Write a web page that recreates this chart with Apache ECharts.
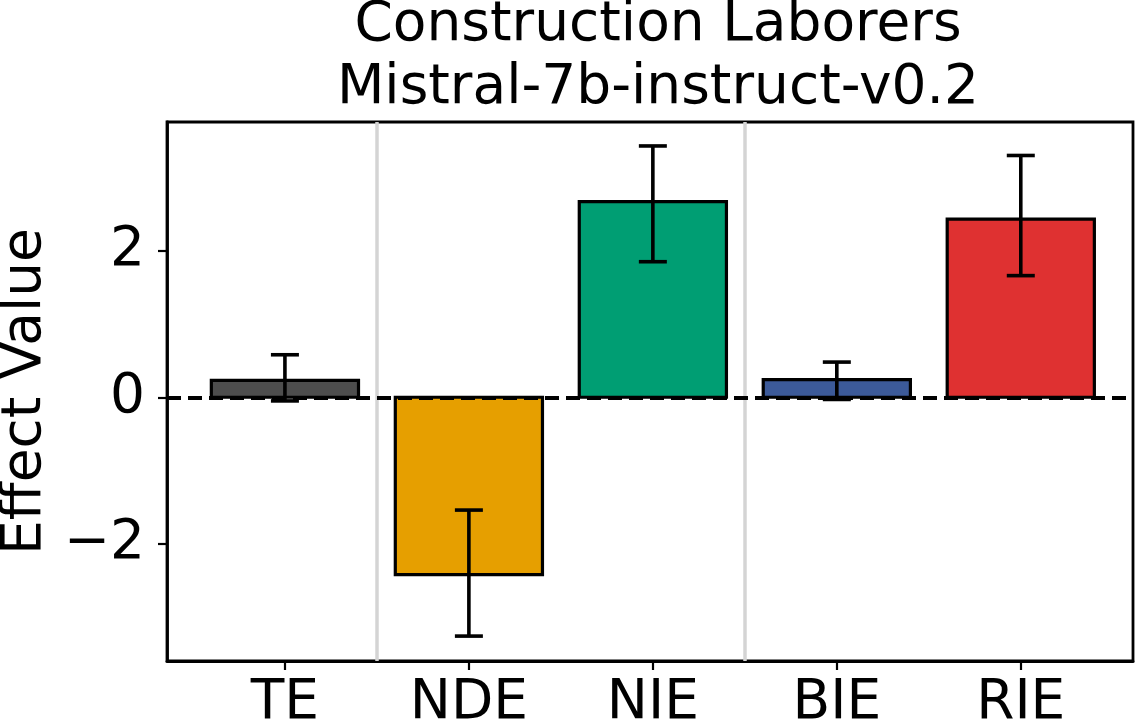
<!DOCTYPE html>
<html lang="en">
<head>
    <meta charset="UTF-8">
    <title>Construction Laborers - Mistral-7b-instruct-v0.2</title>
    <script src="https://cdn.jsdelivr.net/npm/echarts@6/dist/echarts.min.js"></script>
    <style>
        html, body { margin: 0; padding: 0; background: #fff; }
        #Chart1 { width: 1140px; height: 724px; }
    </style>
</head>
<body>
<div id="Chart1"></div>
<script>
// data
var categories = ['TE', 'NDE', 'NIE', 'BIE', 'RIE'];
var effects    = [0.23, -2.42, 2.67, 0.24, 2.43];
var errLow     = [-0.05, -3.26, 1.85, -0.03, 1.66];
var errHigh    = [0.58, -1.54, 3.43, 0.48, 3.30];
var barColors  = ['#4d4d4d', '#E69F00', '#009E73', '#3C5A99', '#DF3131'];
var yTicks     = [-2, 0, 2];
var dividers   = [0.5, 2.5];

var FONT = 'DejaVu Sans';
var BAR_WIDTH = 0.8;
var CAP = 14;

var barData = [];
var errData = [];
for (var i = 0; i < categories.length; i++) {
    barData.push([i, effects[i]]);
    errData.push([i, errLow[i], errHigh[i]]);
}

function renderBar(params, api) {
    var x = api.value(0);
    var v = api.value(1);
    var p0 = api.coord([x - BAR_WIDTH / 2, 0]);
    var p1 = api.coord([x + BAR_WIDTH / 2, v]);
    return {
        type: 'rect',
        shape: {
            x: Math.min(p0[0], p1[0]),
            y: Math.min(p0[1], p1[1]),
            width: Math.abs(p1[0] - p0[0]),
            height: Math.abs(p1[1] - p0[1])
        },
        style: { fill: barColors[params.dataIndex], stroke: '#000', lineWidth: 3.2 }
    };
}

function renderErr(params, api) {
    var x = api.value(0);
    var lo = api.coord([x, api.value(1)]);
    var hi = api.coord([x, api.value(2)]);
    var st = { stroke: '#000', lineWidth: 3.6 };
    return {
        type: 'group',
        children: [
            { type: 'line', shape: { x1: lo[0], y1: lo[1], x2: hi[0], y2: hi[1] }, style: st },
            { type: 'line', shape: { x1: lo[0] - CAP, y1: lo[1], x2: lo[0] + CAP, y2: lo[1] }, style: st },
            { type: 'line', shape: { x1: hi[0] - CAP, y1: hi[1], x2: hi[0] + CAP, y2: hi[1] }, style: st }
        ]
    };
}

var myChart1 = echarts.init(document.getElementById('Chart1'), null, { renderer: 'canvas' });

var option = {
    animation: false,
    backgroundColor: '#fff',
    title: {
        text: 'Construction Laborers\nMistral-7b-instruct-v0.2',
        left: 653,
        textAlign: 'center',
        top: -11,
        textStyle: { fontFamily: FONT, fontSize: 55, fontWeight: 'normal', color: '#000', lineHeight: 63 }
    },
    grid: {
        left: 167, right: 7, top: 122, bottom: 63,
        outerBoundsMode: 'none',
        containLabel: false,
        show: true, borderColor: '#000', borderWidth: 2.8, backgroundColor: 'transparent'
    },
    xAxis: {
        type: 'value',
        min: -0.641,
        max: 4.61,
        splitLine: { show: false },
        axisLine: { show: true, onZero: false, lineStyle: { color: '#000', width: 2.8 } },
        axisTick: { show: true, length: 9, customValues: [0, 1, 2, 3, 4], lineStyle: { color: '#000', width: 2.2 } },
        axisLabel: {
            customValues: [0, 1, 2, 3, 4],
            formatter: function (v) { return categories[Math.round(v)]; },
            fontFamily: FONT, fontSize: 55, color: '#000', margin: 15
        }
    },
    yAxis: {
        type: 'value',
        min: -3.6,
        max: 3.757,
        name: 'Effect Value',
        nameLocation: 'middle',
        nameGap: 110,
        nameTextStyle: { fontFamily: FONT, fontSize: 55, color: '#000' },
        splitLine: { show: false },
        axisLine: { show: true, onZero: false, lineStyle: { color: '#000', width: 2.8 } },
        axisTick: { show: true, length: 9, customValues: yTicks, lineStyle: { color: '#000', width: 2.2 } },
        axisLabel: {
            customValues: yTicks,
            formatter: function (v) { return v < 0 ? '\u2212' + Math.abs(v) : String(v); },
            fontFamily: FONT, fontSize: 55, color: '#000', margin: 22
        }
    },
    series: [
        {
            // grey separators between effect groups
            type: 'line',
            data: [],
            z: 1,
            markLine: {
                silent: true,
                symbol: 'none',
                label: { show: false },
                lineStyle: { color: '#d4d4d4', width: 3.5, type: 'solid' },
                data: dividers.map(function (d) { return { xAxis: d }; })
            }
        },
        {
            type: 'custom',
            renderItem: renderBar,
            data: barData,
            z: 2
        },
        {
            // zero reference line
            type: 'line',
            data: [],
            z: 3,
            markLine: {
                silent: true,
                symbol: 'none',
                label: { show: false },
                lineStyle: { color: '#000', width: 4, type: [14, 7] },
                data: [{ yAxis: 0 }]
            }
        },
        {
            type: 'custom',
            renderItem: renderErr,
            data: errData,
            z: 4
        }
    ]
};

myChart1.setOption(option);
</script>
</body>
</html>
